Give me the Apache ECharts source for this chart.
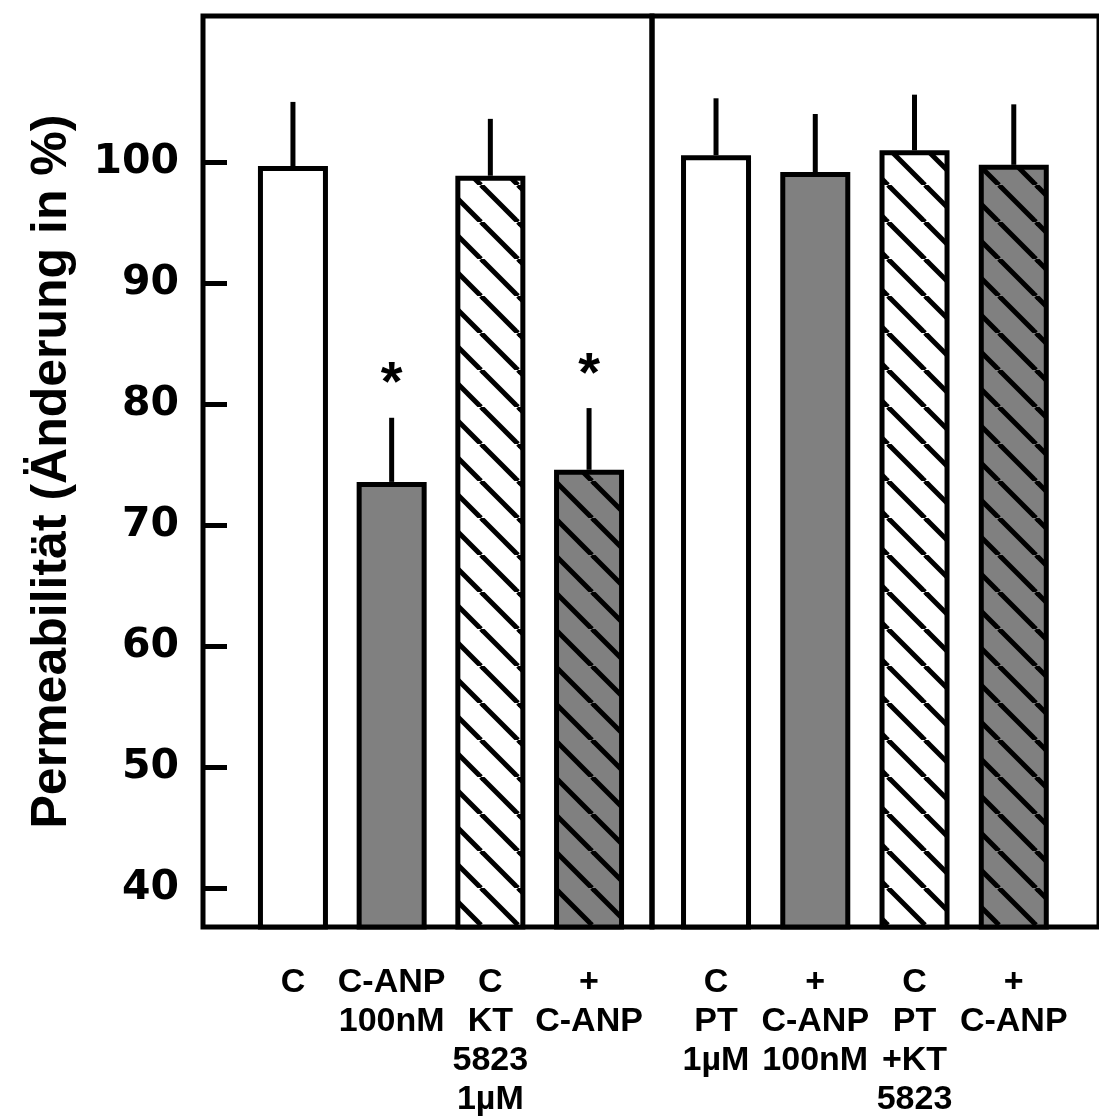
<!DOCTYPE html>
<html>
<head>
<meta charset="utf-8">
<script src="https://cdn.jsdelivr.net/npm/echarts@6/dist/echarts.min.js"></script>
<style>
html,body{margin:0;padding:0;background:#fff;}
#chart{width:1099px;height:1120px;}
</style>
</head>
<body>
<div id="chart"></div>
<script>
// ---- data ----
const categories = ['C', 'C-ANP\n100nM', 'C\nKT\n5823\n1µM', '+\nC-ANP',
                    'C\nPT\n1µM', '+\nC-ANP\n100nM', 'C\nPT\n+KT\n5823', '+\nC-ANP'];
const means = [99.7, 73.6, 98.9, 74.6, 100.6, 99.2, 101.0, 99.8];
const sem = [5.3, 5.3, 4.7, 5.1, 4.7, 4.8, 4.6, 5.0];
const significant = [false, true, false, true, false, false, false, false];
const tickValues = [40, 50, 60, 70, 80, 90, 100];
const yTitle = 'Permeabilität (Änderung in %)';

// ---- styles ----
const fillKinds = ['white', 'gray', 'hatchWhite', 'hatchGray', 'white', 'gray', 'hatchWhite', 'hatchGray'];
const GRAY = '#808080';
function hatch(bg) {
  const S = 37;
  const c = document.createElement('canvas');
  c.width = S; c.height = S;
  const ctx = c.getContext('2d');
  ctx.fillStyle = bg; ctx.fillRect(0, 0, S, S);
  ctx.strokeStyle = '#000'; ctx.lineWidth = 5;
  for (let k = -1; k <= 1; k++) {
    ctx.beginPath(); ctx.moveTo(k * S, 0); ctx.lineTo(k * S + S, S); ctx.stroke();
  }
  return { image: c, repeat: 'repeat' };
}
const fills = {
  white: '#ffffff',
  gray: GRAY,
  hatchWhite: hatch('#ffffff'),
  hatchGray: hatch(GRAY)
};

const Y_MIN = 36.82, Y_MAX = 112.1;
const TOP = 16, HEIGHT = 911;

const chart = echarts.init(document.getElementById('chart'), null, { renderer: 'canvas' });

function yAx(grid, show) {
  return {
    type: 'value', gridIndex: grid, min: Y_MIN, max: Y_MAX, show: show,
    splitLine: { show: false },
    axisLine: { show: false },
    axisTick: show ? { show: true, inside: true, length: 24, lineStyle: { color: '#000', width: 5 }, customValues: tickValues } : { show: false },
    axisLabel: show ? { show: true, customValues: tickValues, margin: 24, color: '#000',
      fontFamily: 'DejaVu Sans', fontWeight: 'bold', fontSize: 41 } : { show: false },
    name: show ? yTitle : '',
    nameLocation: 'middle', nameRotate: 90, nameGap: 126,
    nameTextStyle: { color: '#000', fontFamily: 'Liberation Sans', fontWeight: 'bold', fontSize: 50 }
  };
}
function xCat(grid, cats) {
  return {
    type: 'category', gridIndex: grid, data: cats,
    axisLine: { show: false }, axisTick: { show: false }, splitLine: { show: false },
    axisLabel: { interval: 0, margin: 36, color: '#000', fontFamily: 'Liberation Sans', fontWeight: 'bold',
      fontSize: 34, lineHeight: 39, align: 'center' }
  };
}
function barSeries(xi, start) {
  return {
    type: 'bar', xAxisIndex: xi, yAxisIndex: xi, barWidth: 70, animation: false,
    data: means.slice(start, start + 4).map((v, i) => ({
      value: v,
      itemStyle: { color: fills[fillKinds[start + i]], borderColor: '#000', borderWidth: 5 }
    }))
  };
}
function errSeries(xi, start) {
  return {
    type: 'custom', xAxisIndex: xi, yAxisIndex: xi, animation: false, z: 3,
    data: means.slice(start, start + 4).map((v, i) => [i, v, v + sem[start + i]]),
    renderItem: function (params, api) {
      const p0 = api.coord([api.value(0), api.value(1)]);
      const p1 = api.coord([api.value(0), api.value(2)]);
      const children = [{
        type: 'line', shape: { x1: p0[0], y1: p0[1], x2: p1[0], y2: p1[1] },
        style: { stroke: '#000', lineWidth: 5 }
      }];
      if (significant[start + params.dataIndex]) {
        children.push({
          type: 'text', x: p1[0], y: p1[1] - 33,
          style: { text: '*', fill: '#000', font: 'bold 56px "Liberation Sans"', textAlign: 'center', textVerticalAlign: 'middle' }
        });
      }
      return { type: 'group', children: children };
    }
  };
}

const option = {
  backgroundColor: '#ffffff',
  animation: false,
  grid: [
    { left: 203, top: TOP, width: 449, height: HEIGHT, show: true, borderColor: '#000', borderWidth: 5, backgroundColor: 'transparent' },
    { left: 652, top: TOP, width: 470, height: HEIGHT, show: true, borderColor: '#000', borderWidth: 5, backgroundColor: 'transparent' },
    { left: 243.6, top: TOP, width: 394.8, height: HEIGHT },
    { left: 666.4, top: TOP, width: 397, height: HEIGHT }
  ],
  xAxis: [
    { type: 'value', gridIndex: 0, show: false },
    { type: 'value', gridIndex: 1, show: false },
    xCat(2, categories.slice(0, 4)),
    xCat(3, categories.slice(4, 8))
  ],
  yAxis: [yAx(0, true), yAx(1, false), yAx(2, false), yAx(3, false)],
  series: [barSeries(2, 0), barSeries(3, 4), errSeries(2, 0), errSeries(3, 4)]
};
chart.setOption(option);
</script>
</body>
</html>
